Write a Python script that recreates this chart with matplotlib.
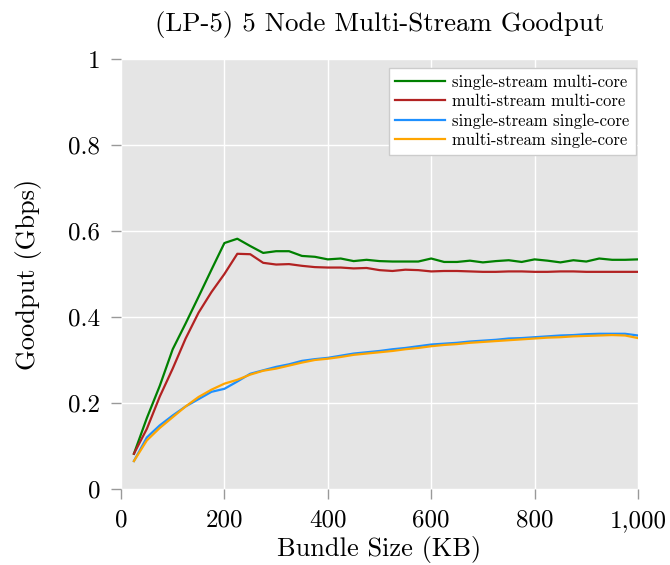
import numpy as np
import matplotlib
matplotlib.use("Agg")
import matplotlib.pyplot as plt

plt.rcParams["font.family"] = "serif"
plt.rcParams["font.serif"] = ["cmr10"]
plt.rcParams["mathtext.fontset"] = "cm"
plt.rcParams["axes.formatter.use_mathtext"] = True

# bundle sizes in KB
bundle_kb = np.arange(25, 1001, 25)

ss_multi = [0.082, 0.165, 0.240, 0.325, 0.385, 0.447, 0.510, 0.572, 0.582, 0.565,
            0.549, 0.553, 0.553, 0.542, 0.540, 0.534, 0.536, 0.530, 0.533, 0.530,
            0.529, 0.529, 0.529, 0.536, 0.528, 0.528, 0.531, 0.527, 0.530, 0.532,
            0.528, 0.534, 0.531, 0.527, 0.532, 0.529, 0.536, 0.533, 0.533, 0.534]
ms_multi = [0.082, 0.140, 0.215, 0.280, 0.350, 0.410, 0.458, 0.500, 0.547, 0.546,
            0.526, 0.522, 0.523, 0.519, 0.516, 0.515, 0.515, 0.513, 0.514, 0.509,
            0.507, 0.510, 0.509, 0.506, 0.507, 0.507, 0.506, 0.505, 0.505, 0.506,
            0.506, 0.505, 0.505, 0.506, 0.506, 0.505, 0.505, 0.505, 0.505, 0.505]
ss_single = [0.065, 0.120, 0.148, 0.171, 0.192, 0.209, 0.226, 0.233, 0.250, 0.268,
             0.276, 0.284, 0.290, 0.298, 0.302, 0.305, 0.310, 0.315, 0.318, 0.321,
             0.325, 0.328, 0.332, 0.336, 0.338, 0.340, 0.343, 0.345, 0.347, 0.350,
             0.351, 0.353, 0.355, 0.357, 0.358, 0.360, 0.361, 0.361, 0.361, 0.357]
ms_single = [0.065, 0.113, 0.142, 0.167, 0.192, 0.214, 0.231, 0.245, 0.254, 0.266,
             0.275, 0.280, 0.287, 0.294, 0.300, 0.303, 0.307, 0.312, 0.315, 0.318,
             0.321, 0.325, 0.328, 0.332, 0.335, 0.337, 0.340, 0.342, 0.344, 0.346,
             0.348, 0.350, 0.352, 0.353, 0.355, 0.356, 0.357, 0.358, 0.357, 0.351]

series = [
    ("single-stream multi-core", ss_multi, "green"),
    ("multi-stream multi-core", ms_multi, "firebrick"),
    ("single-stream single-core", ss_single, "dodgerblue"),
    ("multi-stream single-core", ms_single, "orange"),
]

x_ticks = [0, 200, 400, 600, 800, 1000]
x_labels = ["0", "200", "400", "600", "800", "1,000"]
y_ticks = [0, 0.2, 0.4, 0.6, 0.8, 1.0]
y_labels = ["0", "0.2", "0.4", "0.6", "0.8", "1"]

fig = plt.figure(figsize=(6.7, 5.65), dpi=100)
ax = fig.add_axes([0.1806, 0.1345, 0.7716, 0.7611])
ax.set_facecolor("#e5e5e5")

for label, vals, color in series:
    ax.plot(bundle_kb, vals, color=color, lw=1.6, label=label)

ax.set_xlim(0, 1000)
ax.set_ylim(0, 1)
ax.set_xticks(x_ticks)
ax.set_xticklabels(x_labels)
ax.set_yticks(y_ticks)
ax.set_yticklabels(y_labels)
ax.tick_params(direction="out", length=7, width=1, color="#999999",
               labelsize=18, pad=8)
ax.grid(True, color="white", lw=1)
ax.set_axisbelow(True)
for s in ax.spines.values():
    s.set_visible(False)

ax.set_title("(LP-5) 5 Node Multi-Stream Goodput", fontsize=19.4, pad=20)
ax.set_xlabel("Bundle Size (KB)", fontsize=19, labelpad=3)
ax.set_ylabel("Goodput (Gbps)", fontsize=19, labelpad=19)

leg = ax.legend(loc="upper right", bbox_to_anchor=(0.996, 0.98), borderaxespad=0,
                fontsize=12, handlelength=3.0, fancybox=False, framealpha=1,
                edgecolor="#cccccc", labelspacing=0.25, handletextpad=0.4)

fig.savefig("out.png", dpi=100)
